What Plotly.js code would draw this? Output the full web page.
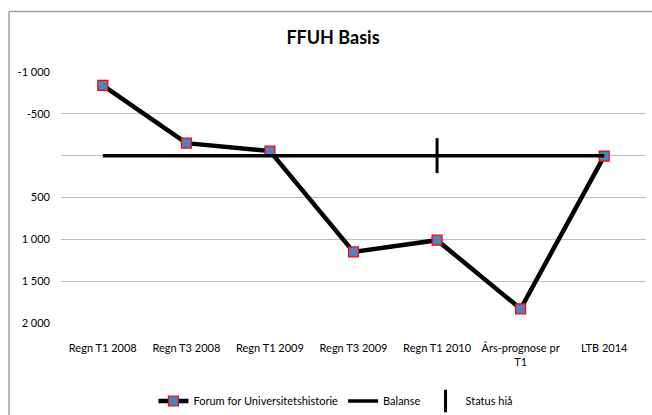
<!DOCTYPE html>
<html>
<head>
<meta charset="utf-8">
<script src="https://cdn.plot.ly/plotly-3.0.1.min.js"></script>
<style>html,body{margin:0;padding:0;background:#fff;}#chart{width:652px;height:415px;}</style>
</head>
<body>
<div id="chart"></div>
<script>
var categories = ["Regn T1 2008", "Regn T3 2008", "Regn T1 2009", "Regn T3 2009", "Regn T1 2010", "Års-prognose pr<br>T1", "LTB 2014"];
var forumValues = [-840, -150, -55, 1150, 1010, 1830, 5];
var balanseValues = [0, 0, 0, 0, 0, 0, 0];
var statusCategory = ["Regn T1 2010"];
var statusValues = [0];
var yTickVals = [-1000, -500, 0, 500, 1000, 1500, 2000];
var yTickText = ["-1 000", "-500", "", "500", "1 000", "1 500", "2 000"];

var font = "Lato, 'Liberation Sans', Arial, sans-serif";

var traces = [
  {
    x: categories, y: forumValues, type: "scatter", mode: "lines+markers",
    name: "Forum for Universitetshistorie",
    line: {color: "#000000", width: 4.5},
    marker: {symbol: "square", size: 10, color: "#4F81BD", line: {color: "#FF0000", width: 1.2}}
  },
  {
    x: categories, y: balanseValues, type: "scatter", mode: "lines",
    name: "Balanse",
    line: {color: "#000000", width: 3.5}
  },
  {
    x: statusCategory, y: statusValues, type: "scatter", mode: "markers",
    name: "Status hiå",
    marker: {symbol: "line-ns", size: 25, color: "#000000", line: {color: "#000000", width: 3}}
  }
];

var layout = {
  width: 652, height: 415,
  margin: {l: 61, r: 6, t: 72, b: 92, autoexpand: false},
  paper_bgcolor: "#ffffff", plot_bgcolor: "#ffffff",
  font: {family: font, size: 11, color: "#000000"},
  title: {text: "<b>FFUH Basis</b>", font: {family: font, size: 18, color: "#000000"},
          x: 333/652, xanchor: "center", y: 1 - 38/415, yanchor: "middle", yref: "container"},
  xaxis: {
    type: "category", range: [-0.5, 6.5], showgrid: false, zeroline: false,
    showline: false, ticks: "", ticklabelstandoff: 17, automargin: false,
    tickfont: {family: font, size: 11, color: "#000000"}, fixedrange: true
  },
  yaxis: {
    range: [2000, -1000], tickvals: yTickVals, ticktext: yTickText,
    showgrid: true, gridcolor: "#BFBFBF", gridwidth: 1, zeroline: false,
    showline: false, ticks: "", ticklabelstandoff: 10, automargin: false,
    tickfont: {family: font, size: 11, color: "#000000"}, fixedrange: true
  },
  showlegend: true,
  legend: {
    orientation: "h", x: 0.47, xanchor: "center", yref: "container", y: 1 - 401/415, yanchor: "middle",
    font: {family: font, size: 11, color: "#000000"}, itemwidth: 30, tracegroupgap: 0
  },
  shapes: [
    {type: "line", xref: "paper", yref: "paper", x0: (9 - 61) / 585, x1: 1.2, y0: (323 - 11.5) / 251, y1: (323 - 11.5) / 251, line: {color: "#A0A0A0", width: 1.5}},
    {type: "line", xref: "paper", yref: "paper", x0: (9 - 61) / 585, x1: (9 - 61) / 585, y0: (323 - 11.5) / 251, y1: -0.5, line: {color: "#A0A0A0", width: 1.5}}
  ]
};

Plotly.newPlot("chart", traces, layout, {displayModeBar: false, staticPlot: true});
</script>
</body>
</html>
